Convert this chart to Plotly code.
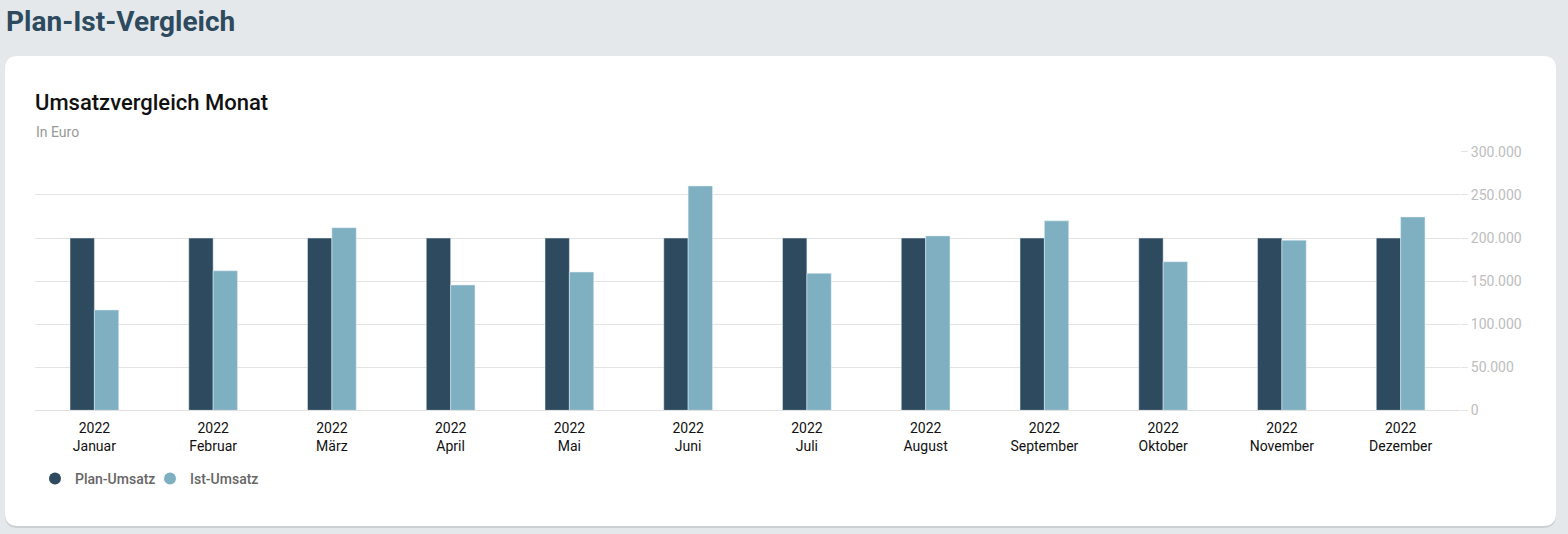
import plotly.graph_objects as go

# data
months = ["Januar", "Februar", "März", "April", "Mai", "Juni",
          "Juli", "August", "September", "Oktober", "November", "Dezember"]
year = "2022"
plan_umsatz = [200000] * 12
ist_umsatz = [116500, 162000, 212000, 145500, 160500, 260500,
              159000, 202500, 220000, 172500, 197500, 224500]

W, H = 1568, 534
dark = "#2d4a5f"
light = "#7fb0c2"


def px(x):
    return x / W


def py(y):
    return 1 - y / H


def rounded_rect(x0, y0, x1, y1, r):
    # path in paper coords for a rect with rounded corners (pixel input)
    rx, ry = r / W, r / H
    a, b, c, d = px(x0), py(y0), px(x1), py(y1)
    return (f"M {a+rx},{b} L {c-rx},{b} Q {c},{b} {c},{b-ry} "
            f"L {c},{d+ry} Q {c},{d} {c-rx},{d} "
            f"L {a+rx},{d} Q {a},{d} {a},{d+ry} "
            f"L {a},{b-ry} Q {a},{b} {a+rx},{b} Z")


labels = [f"{year}<br>{m}" for m in months]

fig = go.Figure()
fig.add_trace(go.Bar(x=months, y=plan_umsatz, name="Plan-Umsatz",
                     marker_color=dark, showlegend=False))
fig.add_trace(go.Bar(x=months, y=ist_umsatz, name="Ist-Umsatz",
                     marker_color=light, showlegend=False))
# legend entries with round symbols
for name, col in [("Plan-Umsatz", dark), ("Ist-Umsatz", light)]:
    fig.add_trace(go.Scatter(x=[None], y=[None], mode="markers", name=name,
                             marker=dict(symbol="circle", size=14, color=col)))

fig.update_layout(
    width=W, height=H,
    margin=dict(l=0, r=0, t=0, b=0, autoexpand=False),
    paper_bgcolor="#e4e8eb",
    plot_bgcolor="rgba(0,0,0,0)",
    font=dict(family="Roboto", color="#111"),
    separators=",.",
    barmode="group",
    bargap=0.59,
    bargroupgap=0,
    showlegend=True,
    legend=dict(orientation="h", x=px(35), y=py(479), xanchor="left",
                yanchor="middle", font=dict(size=14, color="#666", weight=500),
                bgcolor="rgba(0,0,0,0)", itemsizing="constant",
                entrywidth=70),
    shapes=[
        dict(type="path", xref="paper", yref="paper", layer="below",
             path=rounded_rect(5, 58, 1556, 528, 13),
             fillcolor="rgba(0,0,0,0.10)", line_width=0),
        dict(type="path", xref="paper", yref="paper", layer="below",
             path=rounded_rect(5, 56, 1556, 526, 13),
             fillcolor="white", line_width=0),
    ],
    annotations=[
        dict(text="<b>Plan-Ist-Vergleich</b>", xref="paper", yref="paper",
             x=px(4), y=py(22), xanchor="left", yanchor="middle",
             showarrow=False, font=dict(size=28, color="#2d4a5f")),
        dict(text="Umsatzvergleich Monat", xref="paper", yref="paper",
             x=px(33), y=py(102), xanchor="left", yanchor="middle",
             showarrow=False, font=dict(size=22, color="#111", weight=500)),
        dict(text="In Euro", xref="paper", yref="paper",
             x=px(34), y=py(132), xanchor="left", yanchor="middle",
             showarrow=False, font=dict(size=14, color="#999")),
    ],
)

fig.update_xaxes(
    domain=[px(35), px(1460)],
    tickvals=months, ticktext=labels,
    tickfont=dict(size=14, color="#111"),
    ticklabelstandoff=5, automargin=False,
    showgrid=False, showline=True, linecolor="#e0e0e0", linewidth=1,
    ticks="", zeroline=False,
)
fig.update_yaxes(
    domain=[py(410.3), py(151.5)],
    range=[0, 300500], dtick=50000, side="right",
    tickformat=",d", automargin=False,
    tickfont=dict(size=14, color="#bdbdbd"),
    showgrid=True, gridcolor="#e4e4e4", gridwidth=1,
    ticks="outside", ticklen=7, tickcolor="#e4e4e4",
    zeroline=False, showline=False,
)

fig.write_html("out.html", config={"displayModeBar": False},
               post_script="document.body.style.margin='0';")
